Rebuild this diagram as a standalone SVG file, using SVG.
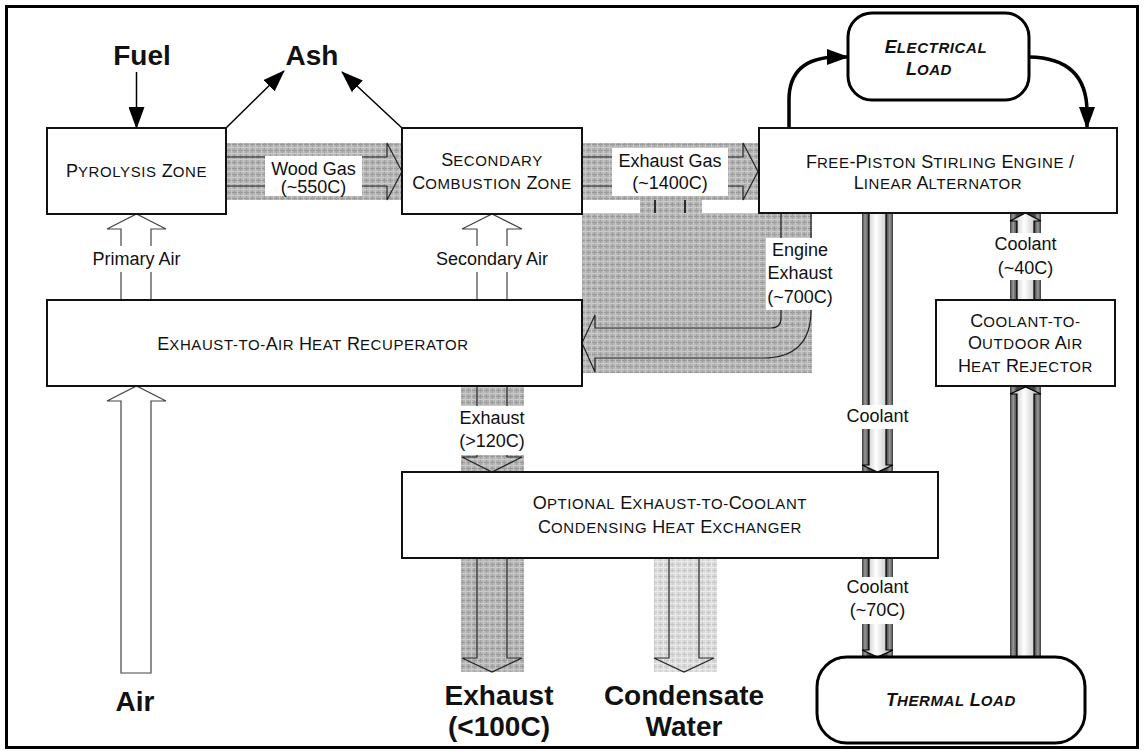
<svg xmlns="http://www.w3.org/2000/svg" width="1144" height="751" viewBox="0 0 1144 751">
<defs>
<pattern id="hatch" width="6" height="6" patternUnits="userSpaceOnUse">
<rect width="6" height="6" fill="#b6b6b6"/>
<rect width="6" height="1" fill="#989898"/>
<rect width="1" height="6" fill="#a0a0a0"/>
<rect y="3" width="6" height="1" fill="#cbcbcb"/>
<rect x="3" width="1" height="6" fill="#c6c6c6"/>
</pattern>
<pattern id="hatchLight" width="6" height="6" patternUnits="userSpaceOnUse">
<rect width="6" height="6" fill="#dcdcdc"/>
<rect width="6" height="1" fill="#c6c6c6"/>
<rect width="1" height="6" fill="#cbcbcb"/>
<rect y="3" width="6" height="1" fill="#ebebeb"/>
<rect x="3" width="1" height="6" fill="#e8e8e8"/>
</pattern>
<linearGradient id="pipeDark" x1="0" y1="0" x2="1" y2="0">
<stop offset="0" stop-color="#3a3a3a"/>
<stop offset="0.1" stop-color="#9a9a9a"/>
<stop offset="0.22" stop-color="#444"/>
<stop offset="0.78" stop-color="#444"/>
<stop offset="0.9" stop-color="#9a9a9a"/>
<stop offset="1" stop-color="#3a3a3a"/>
</linearGradient>
<linearGradient id="pipeLight" x1="0" y1="0" x2="1" y2="0">
<stop offset="0" stop-color="#a8a8a8"/>
<stop offset="0.45" stop-color="#ffffff"/>
<stop offset="1" stop-color="#b0b0b0"/>
</linearGradient>
<marker id="ah" viewBox="0 0 22 16" refX="21" refY="8" markerWidth="22" markerHeight="16" markerUnits="userSpaceOnUse" orient="auto">
<path d="M0,0 L22,8 L0,16 Z" fill="#000"/>
</marker>
<style>
.t{font-family:"Liberation Sans",Arial,sans-serif;fill:#111}
.lbl{font-size:18px}
.big{font-size:28px;font-weight:bold}
.L{font-size:18px}
.s{font-size:15px;letter-spacing:0.6px}
.bi{font-weight:bold;font-style:italic}
.box{fill:#fff;stroke:#111;stroke-width:2}
.rbox{fill:#fff;stroke:#000;stroke-width:3}
.out{fill:none;stroke:#222;stroke-width:1.2}
.hollow{fill:#fff;stroke:#444;stroke-width:1.2}
.pipe{fill:url(#pipeLight);stroke:#000;stroke-width:1.2}
.wire{fill:none;stroke:#000;stroke-width:3.5}
.thin{fill:none;stroke:#000;stroke-width:1.5}
.wb{fill:#fff}
</style>
</defs>

<rect x="6.5" y="6.5" width="1131" height="741" fill="#fff" stroke="#000" stroke-width="3"/>

<g id="connectors">
  <line class="thin" x1="136.5" y1="72" x2="136.5" y2="128" marker-end="url(#ah)"/>
  <line class="thin" x1="226" y1="128" x2="284" y2="71" marker-end="url(#ah)"/>
  <line class="thin" x1="402" y1="128" x2="342" y2="72" marker-end="url(#ah)"/>

  <rect x="226" y="143" width="176" height="57" fill="url(#hatch)"/>
  <path class="out" d="M226,157 L387,157 L387,143 L402,171.5 L387,200 L387,186 L226,186"/>
  <rect class="wb" x="265" y="156" width="97" height="40"/>
  <text class="t lbl" x="313.5" y="175" text-anchor="middle">Wood Gas</text>
  <text class="t lbl" x="313.5" y="193" text-anchor="middle">(~550C)</text>

  <rect x="582" y="143" width="177" height="57" fill="url(#hatch)"/>
  <path class="out" d="M582,157 L743,157 L743,143 L758,171.5 L743,200 L743,186 L582,186"/>
  <rect class="wb" x="612" y="148" width="116" height="48"/>
  <text class="t lbl" x="670" y="167" text-anchor="middle">Exhaust Gas</text>
  <text class="t lbl" x="670" y="189" text-anchor="middle">(~1400C)</text>

  <rect x="640" y="200" width="62" height="13" fill="url(#hatch)"/>
  <line x1="655" y1="200" x2="655" y2="213" stroke="#000" stroke-width="1.5"/>
  <line x1="685" y1="200" x2="685" y2="213" stroke="#000" stroke-width="1.5"/>
  <line x1="759" y1="200" x2="759" y2="213" stroke="#000" stroke-width="1.5"/>

  <rect x="582" y="213" width="230" height="160" fill="url(#hatch)"/>
  <path class="out" d="M781,213 L781,318 Q781,328 771,328 L595,328 L595,315 L582,343 L595,372 L595,358 L763,358 Q811,358 811,310 L811,213"/>
  <rect class="wb" x="766" y="238" width="68" height="72"/>
  <text class="t lbl" x="800" y="256" text-anchor="middle">Engine</text>
  <text class="t lbl" x="800" y="279" text-anchor="middle">Exhaust</text>
  <text class="t lbl" x="800" y="303" text-anchor="middle">(~700C)</text>

  <path class="hollow" d="M121,300 L121,229 L107,229 L136.5,214 L166,229 L151,229 L151,300"/>
  <rect class="wb" x="90" y="246" width="94" height="26"/>
  <text class="t lbl" x="136.5" y="265" text-anchor="middle">Primary Air</text>

  <path class="hollow" d="M477,300 L477,229 L462,229 L492,214 L522,229 L507,229 L507,300"/>
  <rect class="wb" x="428" y="246" width="118" height="26"/>
  <text class="t lbl" x="492" y="265" text-anchor="middle">Secondary Air</text>

  <path class="hollow" d="M121,673 L121,401 L107,401 L136.5,386 L166,401 L151,401 L151,673 Z"/>

  <rect x="461" y="386" width="63" height="86" fill="url(#hatch)"/>
  <path class="out" d="M477,386 L477,457 L462,457 L492,472 L522,457 L507,457 L507,386"/>
  <rect class="wb" x="454" y="406" width="76" height="49"/>
  <text class="t lbl" x="492" y="424" text-anchor="middle">Exhaust</text>
  <text class="t lbl" x="492" y="447" text-anchor="middle">(&gt;120C)</text>

  <rect x="461" y="558" width="63" height="114" fill="url(#hatch)"/>
  <path class="out" d="M477,558 L477,658 L462,658 L492,672 L522,658 L507,658 L507,558"/>

  <rect x="654" y="558" width="63" height="114" fill="url(#hatchLight)"/>
  <path class="out" d="M669,558 L669,658 L654,658 L684,672 L714,658 L699,658 L699,558"/>

  <rect x="862" y="213" width="31" height="259" fill="url(#pipeDark)"/>
  <path class="pipe" d="M869,213 L869,465 L862,465 L877.5,472 L893,465 L886,465 L886,213"/>
  <rect class="wb" x="845" y="405" width="65" height="24"/>
  <text class="t lbl" x="877.5" y="422" text-anchor="middle">Coolant</text>

  <rect x="862" y="558" width="31" height="99" fill="url(#pipeDark)"/>
  <path class="pipe" d="M869,558 L869,650 L862,650 L877.5,657 L893,650 L886,650 L886,558"/>
  <rect class="wb" x="845" y="577" width="65" height="47"/>
  <text class="t lbl" x="877.5" y="593" text-anchor="middle">Coolant</text>
  <text class="t lbl" x="877.5" y="616" text-anchor="middle">(~70C)</text>

  <rect x="1010" y="387" width="31" height="270" fill="url(#pipeDark)"/>
  <path class="pipe" d="M1017,657 L1017,394 L1010,394 L1025.5,387 L1041,394 L1034,394 L1034,657"/>

  <rect x="1010" y="213" width="31" height="87" fill="url(#pipeDark)"/>
  <path class="pipe" d="M1017,300 L1017,221 L1010,221 L1025.5,213 L1041,221 L1034,221 L1034,300"/>
  <rect class="wb" x="992" y="233" width="67" height="47"/>
  <text class="t lbl" x="1025.5" y="250" text-anchor="middle">Coolant</text>
  <text class="t lbl" x="1025.5" y="274" text-anchor="middle">(~40C)</text>

  <path class="wire" d="M789,128 L789,100 Q789,58 836,57 L848,57" marker-end="url(#ah)"/>
  <path class="wire" d="M1029,57 Q1087,58 1087,112 L1087,128" marker-end="url(#ah)"/>
</g>

<g id="fuel"><text class="t big" x="142" y="65" text-anchor="middle">Fuel</text></g>
<g id="ash"><text class="t big" x="312" y="65" text-anchor="middle">Ash</text></g>
<g id="air"><text class="t big" x="135" y="711" text-anchor="middle">Air</text></g>
<g id="exhaust-out">
  <text class="t big" x="499" y="705" text-anchor="middle">Exhaust</text>
  <text class="t big" x="499" y="736" text-anchor="middle">(&lt;100C)</text>
</g>
<g id="condensate">
  <text class="t big" x="684" y="705" text-anchor="middle">Condensate</text>
  <text class="t big" x="684" y="736" text-anchor="middle">Water</text>
</g>

<g id="pyrolysis">
  <rect class="box" x="47" y="128" width="179" height="86"/>
  <text class="t" x="136.5" y="177" text-anchor="middle"><tspan class="L">P</tspan><tspan class="s">YROLYSIS</tspan><tspan class="L"> Z</tspan><tspan class="s">ONE</tspan></text>
</g>

<g id="secondary">
  <rect class="box" x="402" y="128" width="180" height="86"/>
  <text class="t" x="492" y="166" text-anchor="middle"><tspan class="L">S</tspan><tspan class="s">ECONDARY</tspan></text>
  <text class="t" x="492" y="189" text-anchor="middle"><tspan class="L">C</tspan><tspan class="s">OMBUSTION</tspan><tspan class="L"> Z</tspan><tspan class="s">ONE</tspan></text>
</g>

<g id="engine">
  <rect class="box" x="759" y="128" width="358" height="85"/>
  <text class="t" x="940" y="168" text-anchor="middle"><tspan class="L">F</tspan><tspan class="s">REE</tspan><tspan class="L">-P</tspan><tspan class="s">ISTON</tspan><tspan class="L"> S</tspan><tspan class="s">TIRLING</tspan><tspan class="L"> E</tspan><tspan class="s">NGINE</tspan><tspan class="L"> /</tspan></text>
  <text class="t" x="938" y="189" text-anchor="middle"><tspan class="L">L</tspan><tspan class="s">INEAR</tspan><tspan class="L"> A</tspan><tspan class="s">LTERNATOR</tspan></text>
</g>

<g id="electrical-load">
  <rect class="rbox" x="848" y="13" width="181" height="87" rx="24"/>
  <text class="t bi" x="936" y="53" text-anchor="middle"><tspan class="L">E</tspan><tspan class="s">LECTRICAL</tspan></text>
  <text class="t bi" x="929" y="75" text-anchor="middle"><tspan class="L">L</tspan><tspan class="s">OAD</tspan></text>
</g>

<g id="recuperator">
  <rect class="box" x="47" y="300" width="535" height="86"/>
  <text class="t" x="313" y="350" text-anchor="middle"><tspan class="L">E</tspan><tspan class="s">XHAUST-TO-</tspan><tspan class="L">A</tspan><tspan class="s">IR</tspan><tspan class="L"> H</tspan><tspan class="s">EAT</tspan><tspan class="L"> R</tspan><tspan class="s">ECUPERATOR</tspan></text>
</g>

<g id="rejector">
  <rect class="box" x="936" y="300" width="179" height="86"/>
  <text class="t" x="1025.5" y="327" text-anchor="middle"><tspan class="L">C</tspan><tspan class="s">OOLANT-TO-</tspan></text>
  <text class="t" x="1025.5" y="349" text-anchor="middle"><tspan class="L">O</tspan><tspan class="s">UTDOOR</tspan><tspan class="L"> A</tspan><tspan class="s">IR</tspan></text>
  <text class="t" x="1025.5" y="372" text-anchor="middle"><tspan class="L">H</tspan><tspan class="s">EAT</tspan><tspan class="L"> R</tspan><tspan class="s">EJECTOR</tspan></text>
</g>

<g id="condenser">
  <rect class="box" x="402" y="472" width="536" height="86"/>
  <text class="t" x="670" y="509" text-anchor="middle"><tspan class="L">O</tspan><tspan class="s">PTIONAL</tspan><tspan class="L"> E</tspan><tspan class="s">XHAUST-TO-</tspan><tspan class="L">C</tspan><tspan class="s">OOLANT</tspan></text>
  <text class="t" x="670" y="533" text-anchor="middle"><tspan class="L">C</tspan><tspan class="s">ONDENSING</tspan><tspan class="L"> H</tspan><tspan class="s">EAT</tspan><tspan class="L"> E</tspan><tspan class="s">XCHANGER</tspan></text>
</g>

<g id="thermal-load">
  <rect class="rbox" x="817" y="657" width="268" height="86" rx="30"/>
  <text class="t bi" x="951" y="706" text-anchor="middle"><tspan class="L">T</tspan><tspan class="s">HERMAL</tspan><tspan class="L"> L</tspan><tspan class="s">OAD</tspan></text>
</g>
</svg>
